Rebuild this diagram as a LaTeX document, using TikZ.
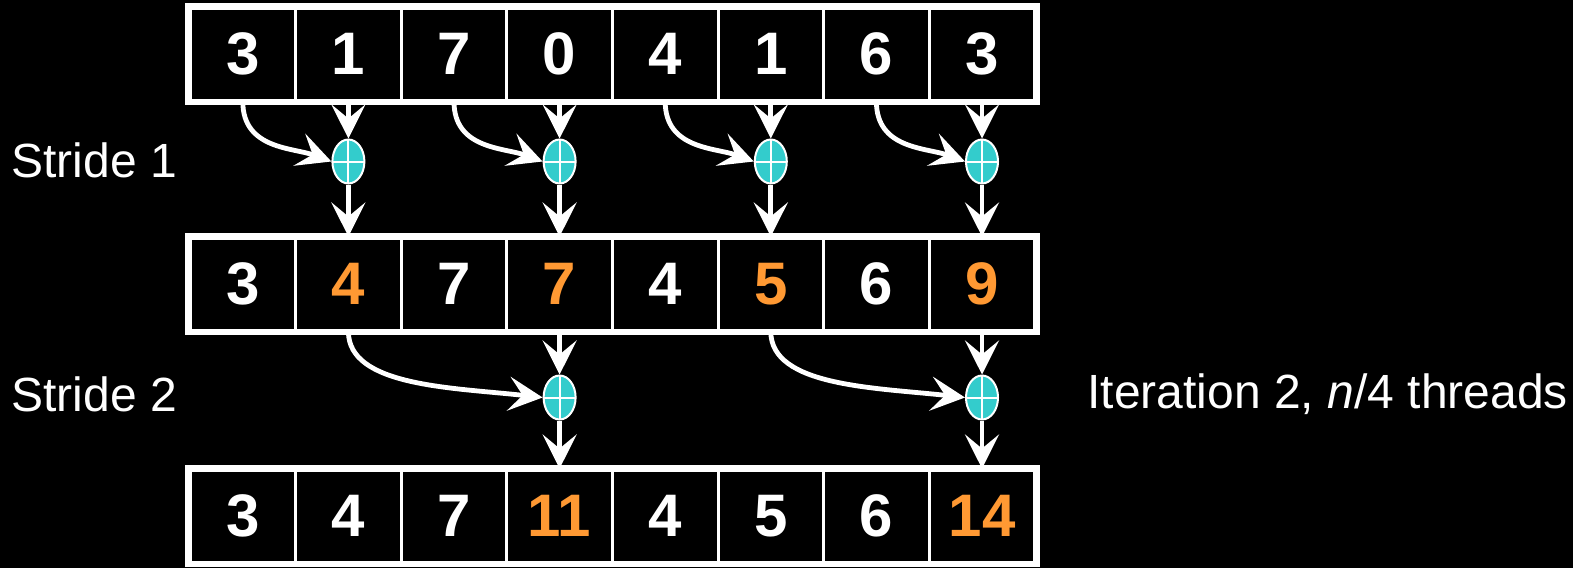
\documentclass[tikz,border=0pt]{standalone}
\usepackage{fontspec}
\setmainfont{Liberation Sans}
\usetikzlibrary{arrows.meta, positioning, shapes.geometric, calc, fit}
\definecolor{corange}{HTML}{FF9933}
\definecolor{ccyan}{HTML}{33CCCC}
\tikzset{
  every picture/.style={x=0.5pt, y=-0.5pt, line width=1.5pt},
  cell/.style={draw=white, minimum width=52.8pt, minimum height=46pt, inner sep=0pt,
    text=white, font=\fontsize{30}{32}\selectfont\bfseries},
  hot/.style={text=corange},
  frame/.style={draw=white, line width=2.5pt, inner sep=0.5pt},
  plus/.style={ellipse, draw=white, fill=ccyan, line width=1pt, minimum width=16pt, minimum height=22pt,
    path picture={\draw[white, line width=1pt]
      (path picture bounding box.north) -- (path picture bounding box.south)
      (path picture bounding box.west) -- (path picture bounding box.east);}},
  arrow/.style={-{Stealth[length=17pt, width=17pt, inset=7pt]}, draw=white, line width=2.4pt},
  label/.style={text=white, font=\fontsize{24}{26}\selectfont, anchor=west, inner sep=0pt},
}

\begin{document}
\begin{tikzpicture}
  \fill[black] (0,0) rectangle (1573,568);
  \useasboundingbox (0,0) rectangle (1573,568);
  % the three rows
  \foreach \v [count=\i] in {3,1,7,0,4,1,6,3}
    \node[cell] (a\i) at ({190+105.6*(\i-0.5)},54) {\v};
  \foreach \v/\s [count=\i] in {3/,4/hot,7/,7/hot,4/,5/hot,6/,9/hot}
    \node[cell, \s] (b\i) at ({190+105.6*(\i-0.5)},284) {\v};
  \foreach \v/\s [count=\i] in {3/,4/,7/,11/hot,4/,5/,6/,14/hot}
    \node[cell, \s] (c\i) at ({190+105.6*(\i-0.5)},516) {\v};
  \node[frame, fit=(a1)(a8)] {};
  \node[frame, fit=(b1)(b8)] {};
  \node[frame, fit=(c1)(c8)] {};
  % stride 1
  \foreach \k/\l/\r in {1/1/2, 2/3/4, 3/5/6, 4/7/8} {
    \node[plus] (p\k) at ($(a\r.south)+(0,60)$) {};
    \draw[arrow] (a\l.south) .. controls ($(a\l.south)+(0,48)$) and ($(p\k.west)+(-38,-14)$) .. (p\k.west);
    \draw[arrow] (a\r.south) -- (p\k.north);
    \draw[arrow] (p\k.south) -- (b\r.north);
  }
  % stride 2
  \foreach \k/\l/\r in {1/2/4, 2/6/8} {
    \node[plus] (q\k) at ($(b\r.south)+(0,66)$) {};
    \draw[arrow] (b\l.south) .. controls ($(b\l.south)+(0,55)$) and ($(q\k.west)+(-90,-10)$) .. (q\k.west);
    \draw[arrow] (b\r.south) -- (q\k.north);
    \draw[arrow] (q\k.south) -- (c\r.north);
  }
  \node[label] (s1) at (10,160) {Stride 1};
  \node[label] (s2) at (10,394) {Stride 2};
  \node[label] (it) at (1086,394) {Iteration 2, \textit{n}/4 threads};
\end{tikzpicture}
\end{document}
